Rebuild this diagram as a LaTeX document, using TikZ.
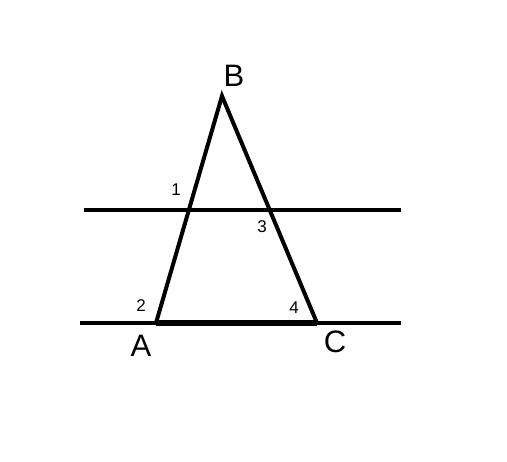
\documentclass[tikz,border=0pt]{standalone}
\usepackage{fontspec}
\setmainfont{Liberation Sans}

\begin{document}
\begin{tikzpicture}[x=1pt, y=-1pt, line width=4pt,
  big/.style = {font=\fontsize{31}{31}\selectfont, inner sep=0pt},
  small/.style = {font=\fontsize{17}{17}\selectfont, inner sep=0pt}]
	\useasboundingbox (0,0) rectangle (507,462);
	\coordinate (A) at (156,323);
	\coordinate (B) at (222,96);
	\coordinate (C) at (317,323);
	\coordinate (L1) at (84,210);
	\coordinate (R1) at (401,210);
	\coordinate (L2) at (80,323);
	\coordinate (R2) at (401,323);
	\node[big] (nB) at (234,76) {B};
	\node[big] (nA) at (141,346) {A};
	\node[big] (nC) at (335,342) {C};
	\node[small] (n1) at (176,190) {1};
	\node[small] (n2) at (141,306) {2};
	\node[small] (n3) at (262,227) {3};
	\node[small] (n4) at (294,308) {4};
	\draw (L1) -- (R1);
	\draw (L2) -- (R2);
	\draw[line join=miter] (A) -- (B) -- (C);
	\draw[line width=5.5pt] (A) -- (C);
\end{tikzpicture}
\end{document}
